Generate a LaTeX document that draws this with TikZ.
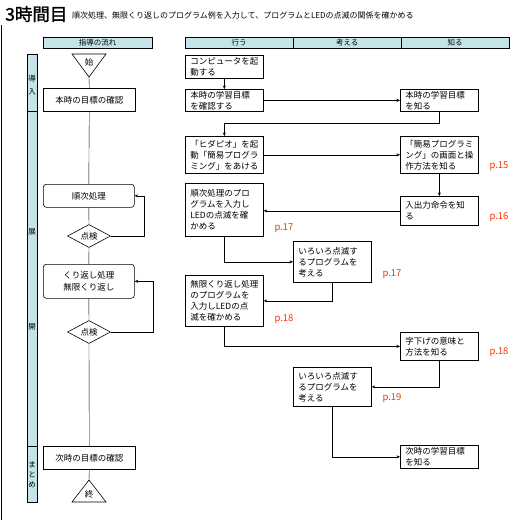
\documentclass[tikz,border=0pt]{standalone}
\usepackage{fontspec}
\setmainfont{Noto Sans CJK JP}
\newfontfamily\titlefont{Noto Sans CJK JP}[FakeBold=1.5]
\usetikzlibrary{shapes.geometric,arrows.meta}

\begin{document}
\begin{tikzpicture}[
    x=1pt, y=-1pt,
    font=\fontsize{8.5pt}{11pt}\selectfont,
    >={Stealth[length=3.5pt,width=3pt]},
    head/.style={draw, fill=hcyan, anchor=north west, minimum height=11pt, inner sep=0pt,
        font=\fontsize{7.5pt}{9pt}\selectfont},
    act/.style={draw, line width=0.7pt, anchor=north west, text width=68pt, align=left,
        inner xsep=5pt, inner ysep=1.5pt},
    flow/.style={draw, line width=0.6pt, anchor=north west, minimum width=92pt,
        minimum height=23pt, inner sep=0pt, align=center},
    proc/.style={flow, rounded corners=3pt},
    check/.style={draw, line width=0.6pt, diamond, aspect=2, minimum width=43pt,
        minimum height=23pt, inner sep=0pt},
    page/.style={anchor=west, text=pgred, font=\fontsize{9.5pt}{10pt}\selectfont},
    band/.style={draw, line width=0.6pt, fill=hcyan},
    bandtxt/.style={align=center, font=\fontsize{7.5pt}{13pt}\selectfont}
]

\definecolor{hcyan}{HTML}{C4E4EA}
\definecolor{pgred}{HTML}{FF3300}

\useasboundingbox (0,0) rectangle (520,520);

% ==========================================
% 1. TITLE & FRAME
% ==========================================

\draw[line width=1pt] (1,25) -- (1,520);

\node[anchor=west, inner sep=0pt, font=\titlefont\fontsize{17.5pt}{18pt}\selectfont] (title) at (5,14) {3時間目};
\node[anchor=west, inner sep=0pt, font=\fontsize{8pt}{9pt}\selectfont] (subtitle) at (72,15)
    {順次処理、無限くり返しのプログラム例を入力して、プログラムとLEDの点滅の関係を確かめる};

% ==========================================
% 2. COLUMN HEADERS & SIDE BAND
% ==========================================

\node[head, minimum width=109pt] (hflow) at (43,37) {指導の流れ};
\node[head, minimum width=108pt] (hdo) at (185,37) {行う};
\node[head, minimum width=108pt] (hthink) at (293,37) {考える};
\node[head, minimum width=108pt] (hknow) at (401,37) {知る};

\draw[band] (27,54) rectangle (37,111);
\draw[band] (27,111) rectangle (37,446);
\draw[band] (27,446) rectangle (37,502);

\node[bandtxt] (sintro) at (32,85) {導\\入};
\node[bandtxt] (sdev1) at (32,232) {展};
\node[bandtxt] (sdev2) at (32,327) {開};
\node[bandtxt, font=\fontsize{7.5pt}{10pt}\selectfont] (ssum) at (32,475) {ま\\と\\め};

% ==========================================
% 3. TEACHING FLOW (left)
% ==========================================

\draw[line width=0.6pt] (72,54) -- (106,54) -- (89,77) -- cycle;
\node (start) at (89,62) {始};
\coordinate (startpt) at (89,77);

\node[flow, minimum width=92pt] (intro) at (43,88) {本時の目標の確認};
\node[proc, minimum width=91pt] (seq) at (43,184) {順次処理};
\node[check] (chk1) at (89,236) {点検};
\node[proc, minimum width=91pt, minimum height=34pt, font=\fontsize{8.5pt}{12pt}\selectfont]
    (loop) at (43,264) {くり返し処理\\無限くり返し};
\node[check] (chk2) at (89,332) {点検};
\node[flow, minimum width=92pt] (summary) at (43,446) {次時の目標の確認};

\draw[line width=0.6pt] (72,502) -- (106,502) -- (89,480) -- cycle;
\node (finish) at (89,494) {終};
\coordinate (finishpt) at (89,480);

\draw (startpt) -- (intro.north);
\draw (intro.south) -- (seq.north);
\draw (seq.south) -- (chk1.north);
\draw (chk1.south) -- (loop.north);
\draw (loop.south) -- (chk2.north);
\draw (chk2.south) -- (summary.north);
\draw (summary.south) -- (finishpt);

\draw[->] (chk1.east) -- ++(33,0) |- (seq.east);
\draw[->] (chk2.east) -- ++(42,0) |- (loop.east);

% ==========================================
% 4. ACTIVITIES (do / think / know)
% ==========================================

\node[act, minimum height=23pt] (act1) at (185,55) {コンピュータを起\\動する};
\node[act, minimum height=22pt] (act2) at (185,89) {本時の学習目標\\を確認する};
\node[act, minimum height=37pt] (act3) at (185,136) {「ヒダピオ」を起\\動「簡易プログラ\\ミング」をあける};
\node[act, minimum height=53pt] (act4) at (185,183) {順次処理のプロ\\グラムを入力し\\LEDの点滅を確\\かめる};
\node[act, minimum height=51pt] (act5) at (185,275) {無限くり返し処理\\のプログラムを\\入力しLEDの点\\滅を確かめる};

\node[act, minimum height=41pt] (think1) at (293,241) {いろいろ点滅す\\るプログラムを\\考える};
\node[act, minimum height=39pt] (think2) at (293,367) {いろいろ点滅す\\るプログラムを\\考える};

\node[act, minimum height=22pt] (know1) at (400,89) {本時の学習目標\\を知る};
\node[act, minimum height=37pt] (know2) at (400,136) {「簡易プログラミ\\ング」の画面と操\\作方法を知る};
\node[act, minimum height=29pt] (know3) at (400,196) {入出力命令を知\\る};
\node[act, minimum height=28pt] (know4) at (400,332) {字下げの意味と\\方法を知る};
\node[act, minimum height=23pt] (know5) at (400,445) {次時の学習目標\\を知る};

\draw[->] (act1.south) -- (act2.north);
\draw[->] (act2.east) -- (know1.west);
\draw[->] (know1.south) -- ++(0,11) -| (act3.north);
\draw[->] (act3.east) -- (know2.west);
\draw[->] (know2.south) -- (know3.north);
\draw[->] (know3.west) -- (know3.west -| act4.east);
\draw[->] (act4.south) |- (think1.west);
\draw[->] (think1.south) |- (act5.east);
\draw[->] (act5.south) |- (know4.west);
\draw[->] (know4.south) |- (think2.east);
\draw[->] (think2.south) |- (know5.west);

% ==========================================
% 5. PAGE REFERENCES
% ==========================================

\node[page] (pg15) at (486,166) {p.15};
\node[page] (pg16) at (486,217) {p.16};
\node[page] (pg17a) at (271,228) {p.17};
\node[page] (pg17b) at (379,274) {p.17};
\node[page] (pg18a) at (271,319) {p.18};
\node[page] (pg18b) at (486,352) {p.18};
\node[page] (pg19) at (379,398) {p.19};

\end{tikzpicture}
\end{document}
